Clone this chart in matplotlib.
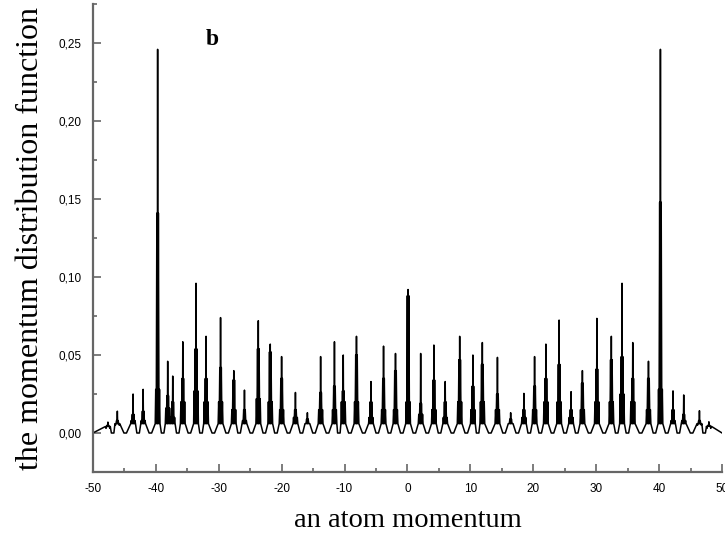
import matplotlib
matplotlib.use("Agg")
import matplotlib.pyplot as plt
from matplotlib.ticker import MultipleLocator, FuncFormatter

# peak clusters: position, top spike, mid level, low level
peak_x = [-47.6, -46.1, -43.6, -42.0, -39.7, -38.1, -37.3, -35.7, -33.6, -32.0,
          -29.7, -27.6, -25.9, -23.7, -21.8, -20.0, -17.8, -15.9, -13.8, -11.6,
          -10.2, -8.1, -5.8, -3.8, -1.9, 0.1, 2.1, 4.2, 6.0, 8.3,
          10.4, 11.9, 14.3, 16.4, 18.5, 20.2, 22.0, 24.1, 26.0, 27.8,
          30.1, 32.4, 34.1, 35.8, 38.3, 40.2, 42.2, 43.9, 46.4, 47.9]
peak_top = [0.007, 0.014, 0.025, 0.028, 0.246, 0.046, 0.0365, 0.0585, 0.096, 0.062,
            0.074, 0.040, 0.0275, 0.072, 0.057, 0.049, 0.026, 0.013, 0.049, 0.0585,
            0.050, 0.062, 0.033, 0.0557, 0.051, 0.092, 0.051, 0.0564, 0.033, 0.062,
            0.050, 0.058, 0.0485, 0.013, 0.0254, 0.049, 0.057, 0.0724, 0.0265, 0.040,
            0.0735, 0.062, 0.096, 0.058, 0.046, 0.246, 0.027, 0.0244, 0.0143, 0.0072]
peak_mid = [0.005, 0.008, 0.012, 0.014, 0.141, 0.024, 0.020, 0.035, 0.054, 0.035,
            0.042, 0.034, 0.015, 0.054, 0.052, 0.035, 0.015, 0.009, 0.026, 0.030,
            0.027, 0.050, 0.020, 0.035, 0.040, 0.088, 0.019, 0.034, 0.020, 0.047,
            0.030, 0.044, 0.025, 0.009, 0.015, 0.030, 0.035, 0.044, 0.015, 0.032,
            0.041, 0.047, 0.049, 0.035, 0.035, 0.148, 0.015, 0.012, 0.008, 0.005]
peak_low = [0.003, 0.005, 0.008, 0.008, 0.028, 0.016, 0.010, 0.020, 0.027, 0.020,
            0.020, 0.015, 0.008, 0.022, 0.020, 0.015, 0.010, 0.006, 0.015, 0.015,
            0.020, 0.020, 0.010, 0.015, 0.015, 0.020, 0.012, 0.015, 0.010, 0.020,
            0.015, 0.020, 0.015, 0.006, 0.010, 0.015, 0.020, 0.020, 0.010, 0.015,
            0.020, 0.020, 0.025, 0.020, 0.015, 0.028, 0.008, 0.008, 0.005, 0.003]

x_ticks = [-50, -40, -30, -20, -10, 0, 10, 20, 30, 40, 50]
y_ticks = [0.00, 0.05, 0.10, 0.15, 0.20, 0.25]

# trace: baseline troughs between clusters, thin spikes inside each cluster
offsets = [-0.38, -0.3, -0.22, -0.12, -0.05, 0.0, 0.05, 0.12, 0.22, 0.3, 0.38]
xs, ys = [-50.0], [0.0]
for i, p in enumerate(peak_x):
    t, m, lo = peak_top[i], peak_mid[i], peak_low[i]
    s = min(0.006, t * 0.6)
    xs += [p + o for o in offsets]
    ys += [s, lo, s, m, s, t, s, m, s, lo, s]
    if i + 1 < len(peak_x) and peak_x[i + 1] - p >= 1.2:
        mid = (p + peak_x[i + 1]) / 2
        xs += [mid - 0.2, mid + 0.2]
        ys += [0.0, 0.0]
xs.append(50.0)
ys.append(0.0)

fig = plt.figure(figsize=(7.25, 5.46), dpi=100)
ax = fig.add_axes([0.128, 0.1355, 0.868, 0.857])
ax.plot(xs, ys, color="black", lw=1.1)

ax.set_xlim(-50, 50)
ax.set_ylim(-0.025, 0.275)
ax.set_xticks(x_ticks)
ax.set_yticks(y_ticks)
ax.xaxis.set_minor_locator(MultipleLocator(5))
ax.yaxis.set_minor_locator(MultipleLocator(0.025))
ax.yaxis.set_major_formatter(FuncFormatter(lambda v, pos: f"{v:.2f}".replace(".", ",")))
ax.xaxis.set_major_formatter(FuncFormatter(lambda v, pos: f"{v:.0f}"))

for side in ["top", "right"]:
    ax.spines[side].set_visible(False)
for side in ["left", "bottom"]:
    ax.spines[side].set_color("#666666")
    ax.spines[side].set_linewidth(1.6)

ax.tick_params(which="major", direction="in", length=6, width=1.2, color="#666666",
               labelsize=8.5, pad=8)
ax.tick_params(which="minor", direction="in", length=3, width=1.2, color="#666666")
for lab in ax.get_xticklabels() + ax.get_yticklabels():
    lab.set_family("Liberation Sans")

ax.set_xlabel("an atom momentum", family="Liberation Serif", fontsize=20.5, labelpad=9)
ax.set_ylabel("the momentum distribution function", family="Liberation Serif",
              fontsize=23, labelpad=10)
ax.text(-31, 0.252, "b", family="Liberation Serif", fontweight="bold", fontsize=17,
        ha="center", va="center")

fig.savefig("out.png", dpi=100)
